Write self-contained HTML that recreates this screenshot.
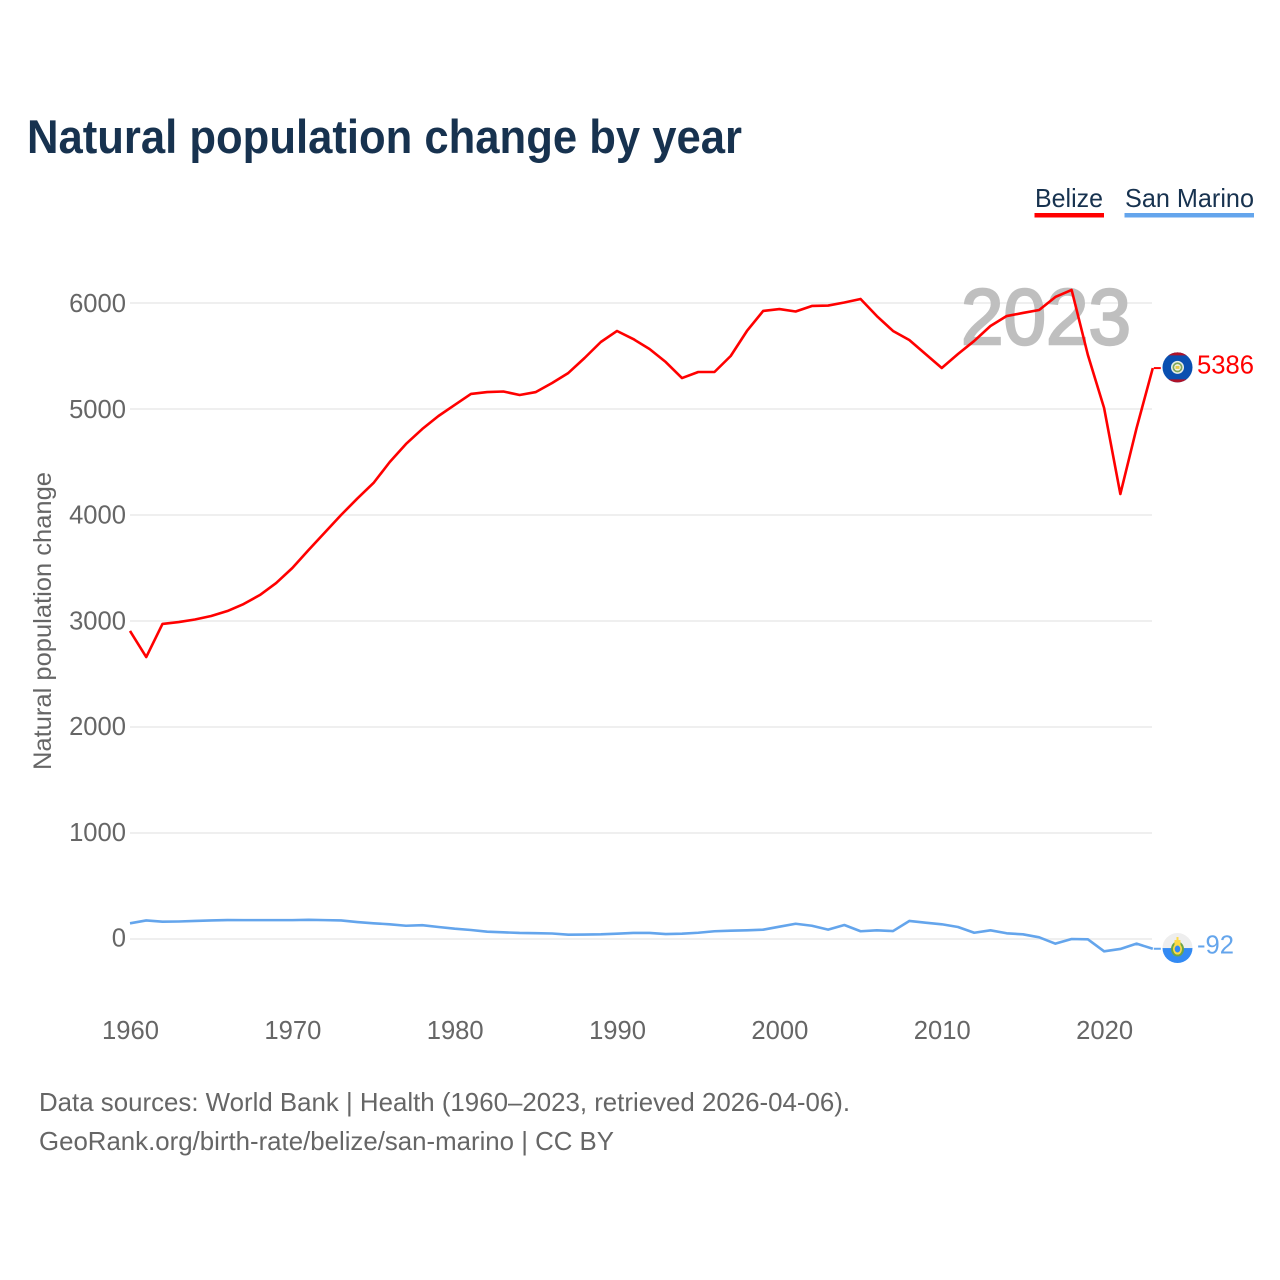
<!DOCTYPE html>
<html lang="en">
<head>
<meta charset="utf-8">
<title>Natural population change by year</title>
<style>
html,body{margin:0;padding:0;background:#fff;width:1280px;height:1280px;overflow:hidden}
svg{display:block}
text{font-family:"Liberation Sans",sans-serif}
</style>
</head>
<body>
<svg id="chart" xmlns="http://www.w3.org/2000/svg" width="1280" height="1280" viewBox="0 0 1280 1280">
  <rect width="1280" height="1280" fill="#fff"/>
  <text x="27" y="153" font-size="47" font-weight="700" fill="#17324f" textLength="715" lengthAdjust="spacingAndGlyphs">Natural population change by year</text>

  <g>
    <text x="1035" y="207" font-size="26" fill="#17324f" textLength="68" lengthAdjust="spacingAndGlyphs">Belize</text>
    <rect x="1034.5" y="213" width="69.5" height="4.5" fill="#ff0000"/>
  </g>
  <g>
    <text x="1125" y="207" font-size="26" fill="#17324f" textLength="129" lengthAdjust="spacingAndGlyphs">San Marino</text>
    <rect x="1124.5" y="213" width="129.5" height="4.5" fill="#64a5ec"/>
  </g>

  <text transform="translate(51 621) rotate(-90)" text-anchor="middle" font-size="25" fill="#666" textLength="298" lengthAdjust="spacingAndGlyphs">Natural population change</text>

  <g id="grid"></g>
  <g id="yticks"></g>
  <g id="xticks"></g>

  <text x="961" y="344" font-size="79" fill="#bfbfbf" stroke="#bfbfbf" stroke-width="2.4" textLength="170" lengthAdjust="spacingAndGlyphs">2023</text>

  <g id="series"></g>

  <g id="flag-belize">
    <clipPath id="clip-bz"><circle cx="1177.5" cy="0" r="15"/></clipPath>
    <g clip-path="url(#clip-bz)">
      <rect x="1162" y="-16" width="31" height="32" fill="#0a4fb0"/>
      <rect x="1162" y="-16" width="31" height="4" fill="#b01228"/>
      <rect x="1162" y="12" width="31" height="4" fill="#b01228"/>
    </g>
    <circle cx="1177.5" cy="0" r="6.5" fill="#e8efe8"/>
    <circle cx="1177.5" cy="0" r="5" fill="#7ea55a"/>
    <circle cx="1177.5" cy="0" r="3.3" fill="#f3f3e6"/>
    <rect x="1175.5" y="-1.5" width="4" height="3" fill="#e5c94a"/>
  </g>
  <g id="flag-san-marino">
    <clipPath id="clip-sm"><circle cx="1177.5" cy="0" r="15"/></clipPath>
    <g clip-path="url(#clip-sm)">
      <rect x="1162" y="-16" width="31" height="16" fill="#eeeeee"/>
      <rect x="1162" y="0" width="31" height="16" fill="#338af3"/>
    </g>
    <ellipse cx="1177.5" cy="1" rx="6.5" ry="7.5" fill="#6da544"/>
    <ellipse cx="1177.5" cy="1" rx="4.5" ry="5.5" fill="#ffda44"/>
    <ellipse cx="1177.5" cy="1" rx="2.8" ry="3.5" fill="#338af3"/>
    <rect x="1174.5" y="-8" width="6" height="5" fill="#ffda44"/>
    <rect x="1176.5" y="-11" width="2" height="3" fill="#ffda44"/>
  </g>

  <g id="endlabels"></g>

  <text x="39" y="1111" font-size="26" fill="#666" textLength="811" lengthAdjust="spacingAndGlyphs">Data sources: World Bank | Health (1960–2023, retrieved 2026-04-06).</text>
  <text x="39" y="1150" font-size="26" fill="#666" textLength="575" lengthAdjust="spacingAndGlyphs">GeoRank.org/birth-rate/belize/san-marino | CC BY</text>
</svg>
<script>
const firstYear = 1960;
const belize = [2906,2660,2972,2990,3014,3047,3094,3160,3245,3358,3500,3670,3835,4000,4155,4302,4500,4670,4811,4934,5038,5142,5160,5165,5132,5160,5245,5340,5481,5632,5736,5660,5566,5443,5292,5349,5349,5500,5736,5925,5943,5920,5972,5976,6005,6038,5877,5736,5651,5519,5387,5519,5642,5783,5877,5906,5934,6057,6123,5510,5009,4198,4820,5386];
const sanMarino = [148,175,163,165,170,175,179,178,178,178,178,181,178,175,160,148,139,125,130,113,97,85,69,63,57,55,52,41,42,44,50,57,57,47,50,59,73,78,82,88,116,144,125,88,132,73,82,75,170,154,139,113,59,82,54,44,16,-44,0,-3,-116,-94,-44,-92];
const yTickValues = [0,1000,2000,3000,4000,5000,6000];
const xTickYears = [1960,1970,1980,1990,2000,2010,2020];

const NS = 'http://www.w3.org/2000/svg';
function xScale(year){ return 130 + (year - 1960) * 16.235; }
function yScale(v){ return 939 - v * 0.106; }
function make(tag, attrs, parent){
  const el = document.createElementNS(NS, tag);
  for (const k in attrs) el.setAttribute(k, attrs[k]);
  parent.appendChild(el);
  return el;
}
const grid = document.getElementById('grid');
const yticks = document.getElementById('yticks');
const xticks = document.getElementById('xticks');
const series = document.getElementById('series');
const endlabels = document.getElementById('endlabels');

yTickValues.forEach(function(v){
  const line = make('line', {x1:130, x2:1152, y1:yScale(v), y2:yScale(v), stroke:'#efefef', 'stroke-width':2}, grid);
  
  
  const t = make('text', {x:126, y:yScale(v) + 7.5 + v / 4000, 'text-anchor':'end', 'font-size':25.6, fill:'#666'}, yticks);
  
  
  t.textContent = String(v);
});
xTickYears.forEach(function(y){
  const t = make('text', {x:xScale(y)+0.5, y:1039, 'text-anchor':'middle', 'font-size':25.6, fill:'#666'}, xticks);
  
  
  t.textContent = String(y);
});

function drawSeries(values, color, name, flagId, labelOffset){
  const pts = values.map(function(v, i){ return xScale(firstYear + i).toFixed(2) + ',' + yScale(v).toFixed(2); }).join(' ');
  const line = make('polyline', {points:pts, fill:'none', stroke:color, 'stroke-width':2.6, 'stroke-linejoin':'round'}, series);
  
  
  const last = values[values.length - 1];
  const lx = xScale(firstYear + values.length - 1);
  const ly = yScale(last);
  const conn = make('line', {x1:lx + 1, x2:lx + 8, y1:ly, y2:ly, stroke:color, 'stroke-width':2}, series);
  
  
  document.getElementById(flagId).setAttribute('transform', 'translate(0 ' + (ly - 0.7) + ')');
  const t = make('text', {x:1197, y:ly + labelOffset, 'font-size':25.6, fill:color}, endlabels);
  
  
  t.textContent = String(last);
}
drawSeries(belize, '#ff0000', 'belize', 'flag-belize', 5.5);
drawSeries(sanMarino, '#64a5ec', 'san-marino', 'flag-san-marino', 4.8);
</script>
</body>
</html>
